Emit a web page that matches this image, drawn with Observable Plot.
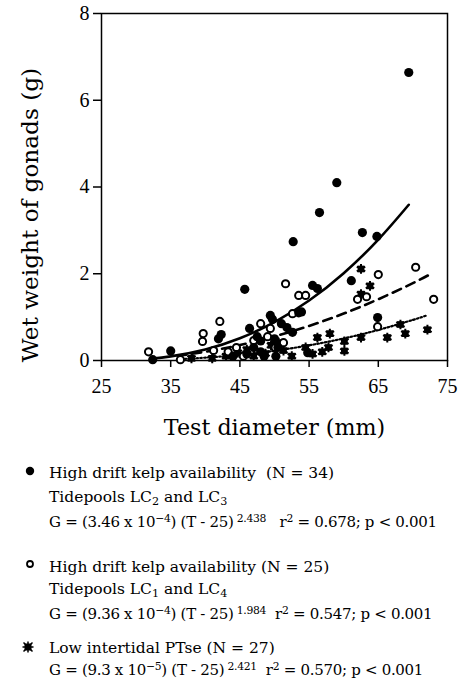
<!DOCTYPE html>
<html>
<head>
<meta charset="utf-8">
<script src="https://cdn.jsdelivr.net/npm/d3@7"></script>
<script src="https://cdn.jsdelivr.net/npm/@observablehq/plot@0.6"></script>
<style>
  body { margin: 0; background: #fff; font-family: "DejaVu Serif", "Liberation Serif", serif; color: #000; }
  #wrap { position: relative; width: 460px; height: 683px; overflow: hidden; }
  #legend { position: absolute; left: 0; top: 0; width: 460px; }
  .row { position: absolute; left: 49px; font-size: 15.5px; line-height: 18px; height: 18px; white-space: nowrap; }
  .row.eq { font-size: 15px; letter-spacing: -0.3px; }
  .mk { position: absolute; line-height: 0; }
  sub { font-size: 0.72em; vertical-align: -0.28em; line-height: 0; }
  sup { font-size: 0.72em; vertical-align: 0.5em; line-height: 0; }
</style>
</head>
<body>
<div id="wrap">
  <div id="chart"></div>
  <div id="legend"></div>
</div>
<script>
// ---- Data ----
// Series A: High drift kelp availability, tidepools LC2 and LC3 (filled circles)
const filledX = [32.4, 35.0, 41.9, 42.3, 45.7, 46.4, 47.0, 48.0, 48.5, 49.4, 49.7, 50.0, 50.5, 51.0, 51.8, 52.6, 52.7, 53.5, 53.9, 54.8, 55.5, 56.2, 56.5, 59.0, 61.1, 62.7, 64.8, 64.9, 69.4, 48.0, 46.0, 44.0, 50.2, 47.5];
const filledY = [0.02, 0.22, 0.50, 0.60, 1.64, 0.74, 0.30, 0.20, 0.10, 1.04, 0.95, 0.50, 0.30, 0.85, 0.76, 0.65, 2.74, 1.10, 1.12, 0.18, 1.73, 1.66, 3.41, 4.10, 1.84, 2.95, 2.86, 0.99, 6.64, 0.45, 0.15, 0.10, 0.10, 0.55];

// Series B: High drift kelp availability, tidepools LC1 and LC4 (open circles)
const openX = [31.8, 36.4, 39.6, 39.7, 41.2, 42.1, 43.3, 44.5, 47.0, 48.0, 49.4, 49.0, 50.1, 51.3, 51.6, 52.6, 53.5, 54.5, 62.0, 63.3, 64.9, 65.0, 70.4, 73.0, 45.5];
const openY = [0.20, 0.02, 0.44, 0.62, 0.23, 0.90, 0.20, 0.30, 0.46, 0.85, 0.74, 0.55, 0.30, 0.41, 1.77, 1.08, 1.50, 1.50, 1.41, 1.47, 0.78, 1.98, 2.15, 1.41, 0.10];

// Series C: Low intertidal PTse (asterisk squares)
const starX = [38.0, 41.0, 43.0, 44.7, 46.0, 47.0, 48.7, 49.5, 50.6, 51.3, 52.5, 54.5, 55.5, 56.2, 56.9, 57.8, 58.0, 60.1, 60.1, 62.5, 62.5, 62.5, 63.8, 66.3, 68.2, 68.9, 72.1];
const starY = [0.05, 0.05, 0.10, 0.18, 0.25, 0.10, 0.16, 0.35, 0.41, 0.23, 0.10, 0.30, 0.15, 0.53, 0.20, 0.30, 0.62, 0.44, 0.22, 0.53, 1.53, 2.11, 1.72, 0.53, 0.83, 0.62, 0.71];

// Fitted curves, points
const solidX = [32.4, 35, 40, 45, 50, 55, 60, 65, 69.4];
const solidY = [0.046, 0.095, 0.255, 0.514, 0.886, 1.382, 2.013, 2.787, 3.59];
const dashX = [36, 40, 45, 50, 55, 60, 65, 70, 72.4];
const dashY = [0.109, 0.202, 0.357, 0.556, 0.797, 1.083, 1.412, 1.784, 1.98];
const dotX = [36, 40, 45, 50, 55, 60, 65, 70, 72.1];
const dotY = [0.031, 0.065, 0.131, 0.225, 0.350, 0.509, 0.704, 0.936, 1.044];

const xTicks = [25, 35, 45, 55, 65, 75];
const yTicks = [0, 2, 4, 6, 8];
const xLabel = "Test diameter (mm)";
const yLabel = "Wet weight of gonads (g)";

// ---- Build tables ----
const toRows = (xs, ys) => xs.map((x, i) => ({x, y: ys[i]}));
const filled = toRows(filledX, filledY);
const open = toRows(openX, openY);
const stars = toRows(starX, starY);
const solid = toRows(solidX, solidY);
const dash = toRows(dashX, dashY);
const dot = toRows(dotX, dotY);

const tickFont = "Liberation Serif, DejaVu Serif, serif";
const labelFont = "DejaVu Serif, Liberation Serif, serif";

const chart = Plot.plot({
  width: 460,
  height: 445,
  marginLeft: 101,
  marginRight: 13,
  marginTop: 13,
  marginBottom: 85,
  style: {fontFamily: tickFont, fontSize: "20px", background: "#fff", color: "#000"},
  x: {domain: [25, 75]},
  y: {domain: [0, 8]},
  marks: [
    Plot.frame({stroke: "#000", strokeWidth: 1.5}),
    Plot.axisX({ticks: xTicks, tickSize: 7, tickPadding: 11, label: null, fontSize: 20, strokeWidth: 1.5}),
    Plot.axisY({ticks: yTicks, tickSize: 8, tickPadding: 4, label: null, fontSize: 20, strokeWidth: 1.5}),
    Plot.text([xLabel], {frameAnchor: "bottom", lineAnchor: "middle", dy: 67, fontSize: 22.2, fontFamily: labelFont, text: d => d}),
    Plot.text([yLabel], {frameAnchor: "left", textAnchor: "middle", lineAnchor: "middle", dx: -71, dy: 28, rotate: -90, fontSize: 23.2, fontFamily: labelFont, text: d => d}),
    Plot.line(solid, {x: "x", y: "y", curve: "natural", stroke: "#000", strokeWidth: 2.6}),
    Plot.line(dash, {x: "x", y: "y", curve: "natural", stroke: "#000", strokeWidth: 2.6, strokeDasharray: "9,6"}),
    Plot.line(dot, {x: "x", y: "y", curve: "natural", stroke: "#000", strokeWidth: 2.2, strokeDasharray: "1.6,2.2"}),
    Plot.dot(stars, {x: "x", y: "y", symbol: "square", r: 3.8, fill: "#000", stroke: "none"}),
    Plot.dot(stars, {x: "x", y: "y", symbol: "asterisk", r: 4.6, stroke: "#000", strokeWidth: 2}),
    Plot.dot(open, {x: "x", y: "y", r: 3.6, fill: "#fff", stroke: "#000", strokeWidth: 2}),
    Plot.dot(filled, {x: "x", y: "y", r: 4.6, fill: "#000", stroke: "none"})
  ]
});
document.getElementById("chart").appendChild(chart);

// ---- Legend (vertical centres of each line) ----
const legendRows = [
  {mid: 473, eq: false, html: "High drift kelp availability&nbsp; (N = 34)"},
  {mid: 497, eq: false, html: "Tidepools LC<sub>2</sub> and LC<sub>3</sub>"},
  {mid: 522, eq: true, html: "G = (3.46 x 10<sup>&minus;4</sup>) (T - 25)<sup>&nbsp;2.438</sup>&nbsp;&nbsp; r<sup>2</sup> = 0.678; p &lt; 0.001"},
  {mid: 567, eq: false, html: "High drift kelp availability (N = 25)"},
  {mid: 589, eq: false, html: "Tidepools LC<sub>1</sub> and LC<sub>4</sub>"},
  {mid: 614, eq: true, html: "G = (9.36 x 10<sup>&minus;4</sup>) (T - 25)<sup>&nbsp;1.984</sup>&nbsp; r<sup>2</sup> = 0.547; p &lt; 0.001"},
  {mid: 648, eq: false, html: "Low intertidal PTse (N = 27)"},
  {mid: 670, eq: true, html: "G = (9.3 x 10<sup>&minus;5</sup>) (T - 25)<sup>&nbsp;2.421</sup>&nbsp; r<sup>2</sup> = 0.570; p &lt; 0.001"}
];
const legend = document.getElementById("legend");
legendRows.forEach(r => {
  const d = document.createElement("div");
  d.className = r.eq ? "row eq" : "row";
  d.style.top = (r.mid - 9) + "px";
  d.innerHTML = r.html;
  legend.appendChild(d);
});
const markers = [
  {left: 24, top: 465, svg: '<svg width="12" height="12"><circle cx="6" cy="6" r="4.2" fill="#000"/></svg>'},
  {left: 24, top: 558, svg: '<svg width="12" height="12"><circle cx="6" cy="6" r="3" fill="#fff" stroke="#000" stroke-width="1.8"/></svg>'},
  {left: 22, top: 641, svg: '<svg width="12" height="12"><rect x="2.5" y="2.5" width="7" height="7" fill="#000"/><path d="M1.5,1.5L10.5,10.5M10.5,1.5L1.5,10.5M6,0.5V11.5M0.5,6H11.5" stroke="#000" stroke-width="1.5"/></svg>'}
];
markers.forEach(m => {
  const d = document.createElement("div");
  d.className = "mk";
  d.style.left = m.left + "px";
  d.style.top = m.top + "px";
  d.innerHTML = m.svg;
  legend.appendChild(d);
});
</script>
</body>
</html>
